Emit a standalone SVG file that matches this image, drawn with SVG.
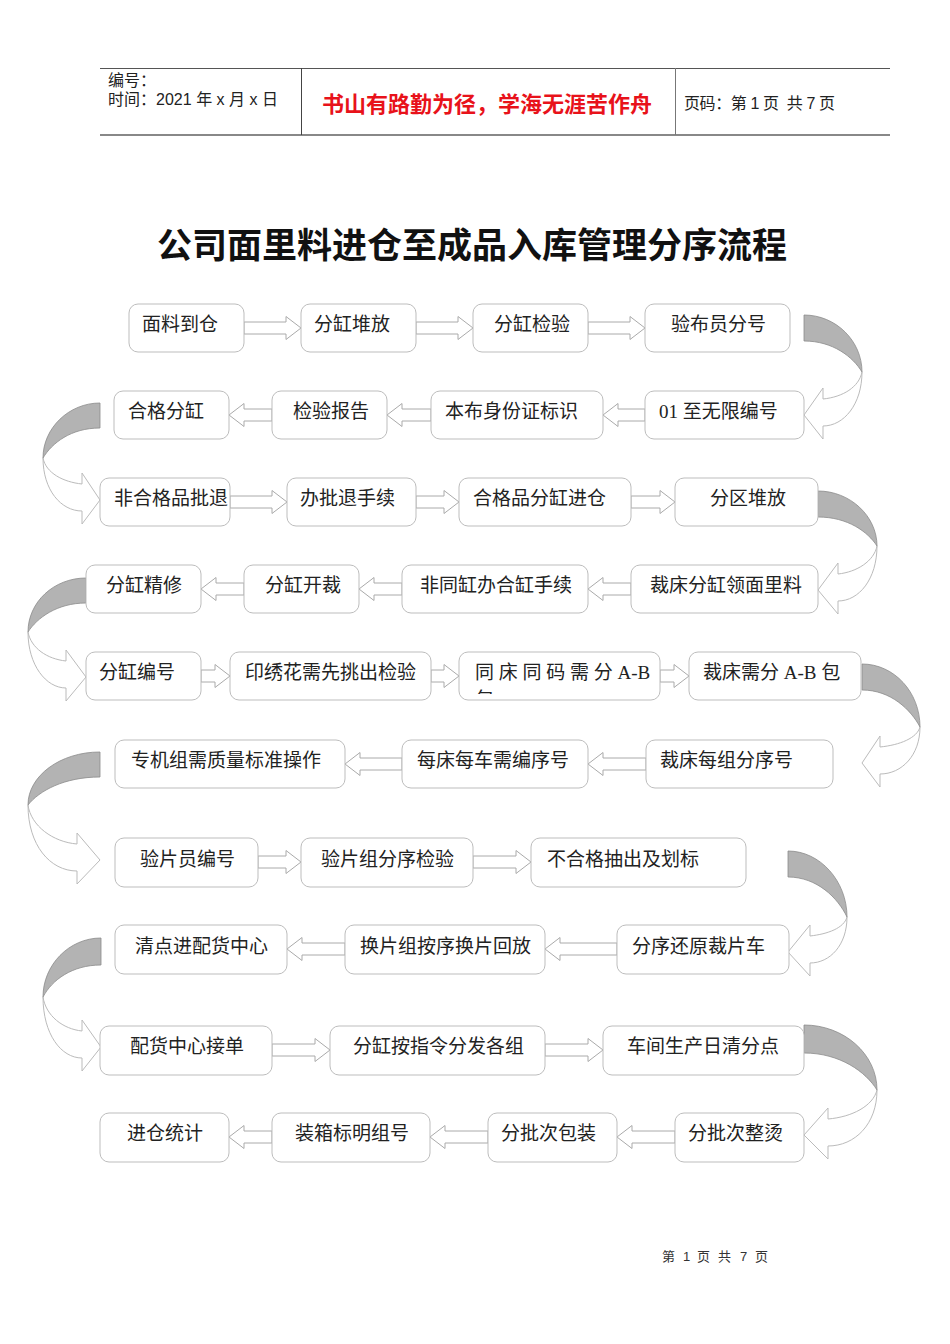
<svg xmlns="http://www.w3.org/2000/svg" width="950" height="1344" viewBox="0 0 950 1344">
<style>
.box{fill:#fff;stroke:#bdbdbd;stroke-width:1}
.arr{fill:#fff;stroke:#aaa;stroke-width:1}
.cg{fill:#b3b3b3;stroke:#8c8c8c;stroke-width:0.8}
.cw{fill:#fff;stroke:#bbb;stroke-width:1}
.t{font-family:'Liberation Serif','Noto Sans CJK SC',serif;font-size:19px;fill:#222}
.h{font-family:'Liberation Sans','Noto Sans CJK SC',sans-serif;font-size:16px;fill:#222}
</style>
<defs>
<clipPath id="clipAB"><rect x="459" y="652" width="201" height="42"/></clipPath>
</defs>
<rect width="950" height="1344" fill="#fff"/>
<g id="header">
<line x1="100" y1="68.5" x2="890" y2="68.5" stroke="#555" stroke-width="1.2"/>
<line x1="100" y1="135" x2="890" y2="135" stroke="#888" stroke-width="2"/>
<line x1="301.5" y1="68" x2="301.5" y2="135" stroke="#444" stroke-width="1"/>
<line x1="675.5" y1="68" x2="675.5" y2="135" stroke="#777" stroke-width="1"/>
<text class="h" x="108" y="86">编号：</text>
<text class="h" x="108" y="105" xml:space="preserve" textLength="170" lengthAdjust="spacing">时间：2021 年 x 月 x 日</text>
<text x="322" y="112" font-family="'Noto Sans CJK SC',sans-serif" font-size="22" font-weight="bold" fill="#e8121a">书山有路勤为径，学海无涯苦作舟</text>
<text class="h" x="684" y="109" xml:space="preserve" textLength="151" lengthAdjust="spacing">页码：第 1 页  共 7 页</text>
</g>
<text x="472" y="258" text-anchor="middle" font-family="'Noto Sans CJK SC',sans-serif" font-size="35" font-weight="bold" fill="#111">公司面里料进仓至成品入库管理分序流程</text>
<g id="connectors">
<polygon class="arr" points="244,322 286,322 286,316.5 301,328 286,339.5 286,334 244,334"/>
<polygon class="arr" points="416,322 458,322 458,316.5 473,328 458,339.5 458,334 416,334"/>
<polygon class="arr" points="588,322 630,322 630,316.5 645,328 630,339.5 630,334 588,334"/>
<polygon class="arr" points="272,409 244,409 244,403.5 229,415 244,426.5 244,421 272,421"/>
<polygon class="arr" points="431,409 402,409 402,403.5 387,415 402,426.5 402,421 431,421"/>
<polygon class="arr" points="645,409 618,409 618,403.5 603,415 618,426.5 618,421 645,421"/>
<polygon class="arr" points="230,496 272,496 272,490.5 287,502 272,513.5 272,508 230,508"/>
<polygon class="arr" points="416,496 444,496 444,490.5 459,502 444,513.5 444,508 416,508"/>
<polygon class="arr" points="631,496 660,496 660,490.5 675,502 660,513.5 660,508 631,508"/>
<polygon class="arr" points="244,583 216,583 216,577.5 201,589 216,600.5 216,595 244,595"/>
<polygon class="arr" points="402,583 374,583 374,577.5 359,589 374,600.5 374,595 402,595"/>
<polygon class="arr" points="631,583 603,583 603,577.5 588,589 603,600.5 603,595 631,595"/>
<polygon class="arr" points="201,670 215,670 215,664.5 230,676 215,687.5 215,682 201,682"/>
<polygon class="arr" points="431,670 444,670 444,664.5 459,676 444,687.5 444,682 431,682"/>
<polygon class="arr" points="660,670 674,670 674,664.5 689,676 674,687.5 674,682 660,682"/>
<polygon class="arr" points="402,758 360,758 360,752.5 345,764 360,775.5 360,770 402,770"/>
<polygon class="arr" points="646,758 603,758 603,752.5 588,764 603,775.5 603,770 646,770"/>
<polygon class="arr" points="258,856 286,856 286,850.5 301,862 286,873.5 286,868 258,868"/>
<polygon class="arr" points="473,856 516,856 516,850.5 531,862 516,873.5 516,868 473,868"/>
<polygon class="arr" points="345,943 302,943 302,937.5 287,949 302,960.5 302,955 345,955"/>
<polygon class="arr" points="617,943 560,943 560,937.5 545,949 560,960.5 560,955 617,955"/>
<polygon class="arr" points="272,1044 315,1044 315,1038.5 330,1050 315,1061.5 315,1056 272,1056"/>
<polygon class="arr" points="545,1044 588,1044 588,1038.5 603,1050 588,1061.5 588,1056 545,1056"/>
<polygon class="arr" points="272,1131 244,1131 244,1125.5 229,1137 244,1148.5 244,1143 272,1143"/>
<polygon class="arr" points="488,1131 445,1131 445,1125.5 430,1137 445,1148.5 445,1143 488,1143"/>
<polygon class="arr" points="675,1131 632,1131 632,1125.5 617,1137 632,1148.5 632,1143 675,1143"/>
<path class="cg" d="M804,315 C836,315 862,341 862,372 C853,357 833,341 804,341 Z"/>
<path class="cw" d="M862,372 C862,404 844,426 823,426 L823,439 L804,415 L823,388 L823,399 C843,397 859,387 862,372 Z"/>
<path class="cg" d="M818,491 C850,491 877,516 877,546 C868,532 848,517 818,517 Z"/>
<path class="cw" d="M877,546 C877,579 859,601 838,601 L838,614 L818,590 L838,563 L838,574 C857,572 874,561 877,546 Z"/>
<path class="cg" d="M862,664 C894,664 920,692 920,727 C911,710 891,690 862,690 Z"/>
<path class="cw" d="M920,727 C920,755 902,774 880,774 L880,787 L862,763 L880,736 L880,747 C900,745 917,738 920,727 Z"/>
<path class="cg" d="M788,851 C820,851 847,881 847,917 C838,898 817,877 788,877 Z"/>
<path class="cw" d="M847,917 C847,945 830,963 810,963 L810,976 L788,952 L810,925 L810,936 C828,934 844,928 847,917 Z"/>
<path class="cg" d="M804,1025 C844,1025 877,1054 877,1090 C866,1072 840,1053 804,1053 Z"/>
<path class="cw" d="M877,1090 C877,1124 855,1146 828,1146 L828,1159 L804,1135 L828,1108 L828,1119 C852,1117 873,1106 877,1090 Z"/>
<path class="cg" d="M100,403 C69,403 43,428 43,458 C52,443 71,428 100,428 Z"/>
<path class="cw" d="M43,458 C43,490 61,511 82,511 L82,524 L100,500 L82,473 L82,484 C63,482 46,473 43,458 Z"/>
<path class="cg" d="M86,578 C54,578 28,602 28,632 C37,618 57,603 86,603 Z"/>
<path class="cw" d="M28,632 C28,665 46,688 66,688 L66,701 L86,677 L66,650 L66,661 C47,659 31,648 28,632 Z"/>
<path class="cg" d="M100,752 C60,752 28,776 28,805 C39,791 64,777 100,777 Z"/>
<path class="cw" d="M28,805 C28,845 50,871 77,871 L77,884 L100,860 L77,833 L77,844 C53,842 31,826 28,805 Z"/>
<path class="cg" d="M101,938 C69,938 43,965 43,997 C52,980 72,965 101,965 Z"/>
<path class="cw" d="M43,997 C43,1034 61,1058 82,1058 L82,1071 L101,1047 L82,1020 L82,1031 C63,1029 46,1016 43,997 Z"/>
</g>
<g id="n1"><rect class="box" x="129" y="304" width="115" height="48" rx="9"/><text class="t" x="142" y="331">面料到仓</text></g>
<g id="n2"><rect class="box" x="301" y="304" width="115" height="48" rx="9"/><text class="t" x="314" y="331">分缸堆放</text></g>
<g id="n3"><rect class="box" x="473" y="304" width="115" height="48" rx="9"/><text class="t" x="494" y="331">分缸检验</text></g>
<g id="n4"><rect class="box" x="645" y="304" width="145" height="48" rx="9"/><text class="t" x="671" y="331">验布员分号</text></g>
<g id="n5"><rect class="box" x="645" y="391" width="159" height="48" rx="9"/><text class="t" x="659" y="418">01 至无限编号</text></g>
<g id="n6"><rect class="box" x="431" y="391" width="172" height="48" rx="9"/><text class="t" x="445" y="418">本布身份证标识</text></g>
<g id="n7"><rect class="box" x="272" y="391" width="115" height="48" rx="9"/><text class="t" x="293" y="418">检验报告</text></g>
<g id="n8"><rect class="box" x="114" y="391" width="115" height="48" rx="9"/><text class="t" x="128" y="418">合格分缸</text></g>
<g id="n9"><rect class="box" x="100" y="478" width="130" height="48" rx="9"/><text class="t" x="114" y="505">非合格品批退</text></g>
<g id="n10"><rect class="box" x="287" y="478" width="129" height="48" rx="9"/><text class="t" x="300" y="505">办批退手续</text></g>
<g id="n11"><rect class="box" x="459" y="478" width="172" height="48" rx="9"/><text class="t" x="473" y="505">合格品分缸进仓</text></g>
<g id="n12"><rect class="box" x="675" y="478" width="143" height="48" rx="9"/><text class="t" x="710" y="505">分区堆放</text></g>
<g id="n13"><rect class="box" x="631" y="565" width="187" height="48" rx="9"/><text class="t" x="650" y="592">裁床分缸领面里料</text></g>
<g id="n14"><rect class="box" x="402" y="565" width="186" height="48" rx="9"/><text class="t" x="420" y="592">非同缸办合缸手续</text></g>
<g id="n15"><rect class="box" x="244" y="565" width="115" height="48" rx="9"/><text class="t" x="265" y="592">分缸开裁</text></g>
<g id="n16"><rect class="box" x="86" y="565" width="115" height="48" rx="9"/><text class="t" x="106" y="592">分缸精修</text></g>
<g id="n17"><rect class="box" x="86" y="652" width="115" height="48" rx="9"/><text class="t" x="99" y="679">分缸编号</text></g>
<g id="n18"><rect class="box" x="230" y="652" width="201" height="48" rx="9"/><text class="t" x="245" y="679">印绣花需先挑出检验</text></g>
<g id="n19"><rect class="box" x="459" y="652" width="201" height="48" rx="9"/><text class="t" x="475" y="679">同 床 同 码 需 分 A-B</text><text class="t" x="475" y="706" clip-path="url(#clipAB)">包</text></g>
<g id="n20"><rect class="box" x="689" y="652" width="172" height="48" rx="9"/><text class="t" x="703" y="679">裁床需分 A-B 包</text></g>
<g id="n21"><rect class="box" x="646" y="740" width="187" height="48" rx="9"/><text class="t" x="660" y="767">裁床每组分序号</text></g>
<g id="n22"><rect class="box" x="402" y="740" width="186" height="48" rx="9"/><text class="t" x="417" y="767">每床每车需编序号</text></g>
<g id="n23"><rect class="box" x="115" y="740" width="230" height="48" rx="9"/><text class="t" x="131" y="767">专机组需质量标准操作</text></g>
<g id="n24"><rect class="box" x="115" y="838" width="143" height="49" rx="9"/><text class="t" x="140" y="866">验片员编号</text></g>
<g id="n25"><rect class="box" x="301" y="838" width="172" height="49" rx="9"/><text class="t" x="321" y="866">验片组分序检验</text></g>
<g id="n26"><rect class="box" x="531" y="838" width="215" height="49" rx="9"/><text class="t" x="547" y="866">不合格抽出及划标</text></g>
<g id="n27"><rect class="box" x="617" y="925" width="172" height="49" rx="9"/><text class="t" x="632" y="953">分序还原裁片车</text></g>
<g id="n28"><rect class="box" x="345" y="925" width="200" height="49" rx="9"/><text class="t" x="360" y="953">换片组按序换片回放</text></g>
<g id="n29"><rect class="box" x="115" y="925" width="172" height="49" rx="9"/><text class="t" x="135" y="953">清点进配货中心</text></g>
<g id="n30"><rect class="box" x="100" y="1026" width="172" height="49" rx="9"/><text class="t" x="130" y="1053">配货中心接单</text></g>
<g id="n31"><rect class="box" x="330" y="1026" width="215" height="49" rx="9"/><text class="t" x="353" y="1053">分缸按指令分发各组</text></g>
<g id="n32"><rect class="box" x="603" y="1026" width="201" height="49" rx="9"/><text class="t" x="627" y="1053">车间生产日清分点</text></g>
<g id="n33"><rect class="box" x="675" y="1113" width="129" height="49" rx="9"/><text class="t" x="688" y="1140">分批次整烫</text></g>
<g id="n34"><rect class="box" x="488" y="1113" width="129" height="49" rx="9"/><text class="t" x="501" y="1140">分批次包装</text></g>
<g id="n35"><rect class="box" x="272" y="1113" width="158" height="49" rx="9"/><text class="t" x="295" y="1140">装箱标明组号</text></g>
<g id="n36"><rect class="box" x="100" y="1113" width="129" height="49" rx="9"/><text class="t" x="127" y="1140">进仓统计</text></g>
<text x="662 683 697 718 740 755" y="1261" font-family="'Liberation Sans','Noto Sans CJK SC',sans-serif" font-size="13" fill="#333">第1页共7页</text>
</svg>
